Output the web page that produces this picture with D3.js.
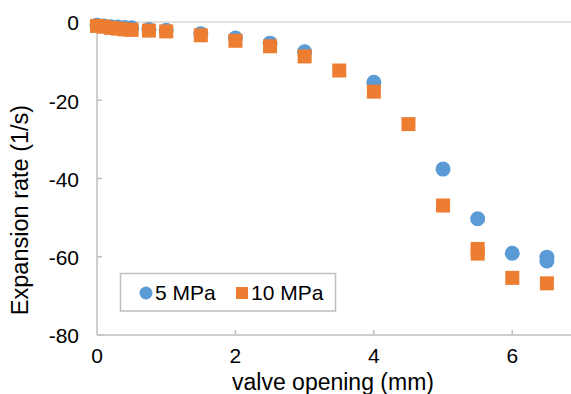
<!DOCTYPE html>
<html>
<head>
<meta charset="utf-8">
<script src="https://cdn.jsdelivr.net/npm/d3@7"></script>
<style>
  body { margin: 0; background: #fff; }
  text { font-family: "Liberation Sans", Arial, sans-serif; fill: #000; }
</style>
</head>
<body>
<div id="chart"></div>
<script>
// Data
var xTicks = [0, 2, 4, 6];
var yTicks = [0, -20, -40, -60, -80];

var opening5 = [0, 0.1, 0.2, 0.3, 0.4, 0.5, 0.75, 1, 1.5, 2, 2.5, 3, 4, 5, 5.5, 6, 6.5, 6.5];
var rate5 = [-0.8, -1.0, -1.2, -1.3, -1.4, -1.5, -1.9, -2.1, -3.0, -4.1, -5.4, -7.6, -15.4, -37.6, -50.3, -59.1, -60.1, -61.1];

var opening10 = [0, 0.1, 0.2, 0.3, 0.4, 0.5, 0.75, 1, 1.5, 2, 2.5, 3, 3.5, 4, 4.5, 5, 5.5, 5.5, 6, 6.5];
var rate10 = [-1.0, -1.2, -1.5, -1.7, -1.9, -2.0, -2.2, -2.4, -3.4, -4.8, -6.2, -8.8, -12.4, -17.8, -26.1, -46.9, -58.0, -59.2, -65.4, -66.8];

var series = [
  { name: "5 MPa", color: "#5B9BD5", shape: "circle", x: opening5, y: rate5 },
  { name: "10 MPa", color: "#ED7D31", shape: "square", x: opening10, y: rate10 }
];

var svgWidth = 571;
var svgHeight = 394;
var axisColor = "#BFBFBF";
var tickFont = 21;
var titleFont = 23;

var svg = d3.select("#chart")
  .append("svg")
  .attr("width", svgWidth)
  .attr("height", svgHeight);

// scales (x range runs past the right edge, like the cropped original)
var xScale = d3.scaleLinear().domain([0, 7]).range([97, 581.5]);
var yScale = d3.scaleLinear().domain([-80, 0]).range([335, 22]);

// top horizontal axis line at 0
svg.append("line")
  .attr("x1", xScale(0)).attr("x2", svgWidth)
  .attr("y1", yScale(0)).attr("y2", yScale(0))
  .attr("stroke", "#D9D9D9")
  .attr("stroke-width", 1.5);

// bottom line with ticks
svg.append("line")
  .attr("x1", xScale(0)).attr("x2", svgWidth)
  .attr("y1", yScale(-80)).attr("y2", yScale(-80))
  .attr("stroke", axisColor)
  .attr("stroke-width", 1.5);

svg.selectAll(".xtick")
  .data(xTicks.slice(1))
  .enter()
  .append("line")
  .attr("x1", d => xScale(d)).attr("x2", d => xScale(d))
  .attr("y1", yScale(-80)).attr("y2", yScale(-80) - 5)
  .attr("stroke", axisColor)
  .attr("stroke-width", 1.5);

// vertical axis line with ticks
svg.append("line")
  .attr("x1", xScale(0)).attr("x2", xScale(0))
  .attr("y1", yScale(0)).attr("y2", yScale(-80))
  .attr("stroke", axisColor)
  .attr("stroke-width", 1.5);

svg.selectAll(".ytick")
  .data(yTicks)
  .enter()
  .append("line")
  .attr("x1", xScale(0)).attr("x2", xScale(0) + 5)
  .attr("y1", d => yScale(d)).attr("y2", d => yScale(d))
  .attr("stroke", axisColor)
  .attr("stroke-width", 1.5);

// tick labels
svg.selectAll(".ylabel")
  .data(yTicks)
  .enter()
  .append("text")
  .attr("x", 79)
  .attr("y", d => yScale(d) + 1)
  .attr("dy", "0.35em")
  .attr("text-anchor", "end")
  .attr("font-size", tickFont)
  .text(d => d);

svg.selectAll(".xlabel")
  .data(xTicks)
  .enter()
  .append("text")
  .attr("x", d => xScale(d))
  .attr("y", 356)
  .attr("dy", "0.35em")
  .attr("text-anchor", "middle")
  .attr("font-size", tickFont)
  .text(d => d);

// axis titles
svg.append("text")
  .attr("x", 333)
  .attr("y", 389.5)
  .attr("text-anchor", "middle")
  .attr("font-size", titleFont)
  .text("valve opening (mm)");

svg.append("text")
  .attr("transform", "translate(28, 210) rotate(-90)")
  .attr("text-anchor", "middle")
  .attr("font-size", 23.5)
  .text("Expansion rate (1/s)");

// markers
var symbolSquare = d3.symbol().type(d3.symbolSquare).size(196);

series.forEach(function(s) {
  var pts = s.x.map((v, i) => ({ x: v, y: s.y[i] }));
  var g = svg.append("g");
  if (s.shape === "circle") {
    g.selectAll("circle")
      .data(pts)
      .enter()
      .append("circle")
      .attr("cx", d => xScale(d.x))
      .attr("cy", d => yScale(d.y))
      .attr("r", 7.5)
      .attr("fill", s.color);
  } else {
    g.selectAll("path")
      .data(pts)
      .enter()
      .append("path")
      .attr("d", symbolSquare)
      .attr("transform", d => `translate(${xScale(d.x)}, ${yScale(d.y)})`)
      .attr("fill", s.color);
  }
});

// legend
var legend = svg.append("g");
legend.append("rect")
  .attr("x", 120.5).attr("y", 273.5)
  .attr("width", 215).attr("height", 37.5)
  .attr("fill", "#fff")
  .attr("stroke", axisColor)
  .attr("stroke-width", 1.5);

legend.append("circle")
  .attr("cx", 146).attr("cy", 293)
  .attr("r", 6.5)
  .attr("fill", series[0].color);
legend.append("text")
  .attr("x", 155).attr("y", 293)
  .attr("dy", "0.35em")
  .attr("font-size", tickFont)
  .text(series[0].name);

legend.append("path")
  .attr("d", d3.symbol().type(d3.symbolSquare).size(144))
  .attr("transform", "translate(242, 293)")
  .attr("fill", series[1].color);
legend.append("text")
  .attr("x", 251).attr("y", 293)
  .attr("dy", "0.35em")
  .attr("font-size", tickFont)
  .text(series[1].name);
</script>
</body>
</html>
